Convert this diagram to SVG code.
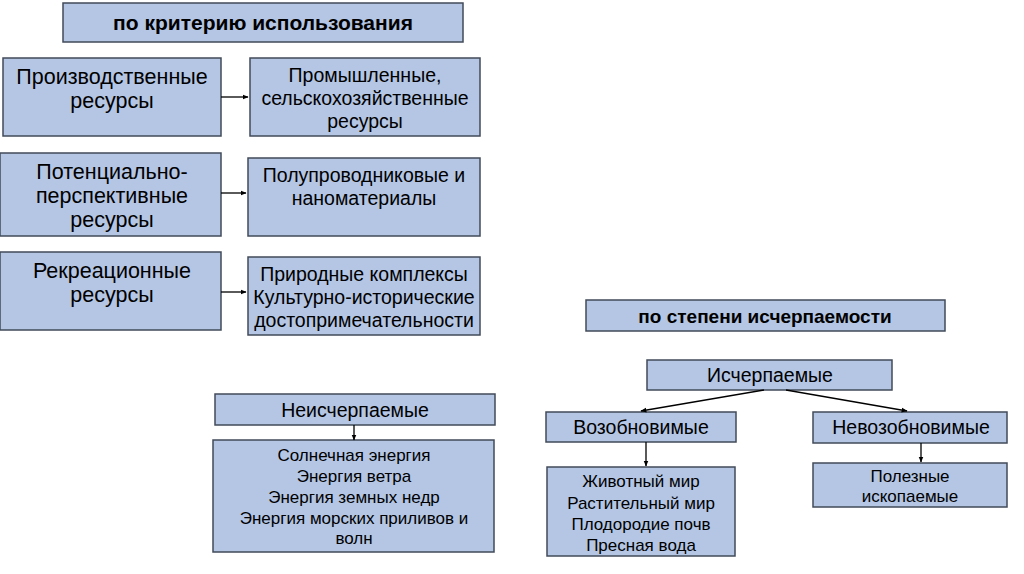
<svg xmlns="http://www.w3.org/2000/svg" width="1024" height="574" viewBox="0 0 1024 574">
<defs>
<style>
.box{fill:#b4c6e4;stroke:#414b5a;stroke-width:1.5}
.t{font-family:"Liberation Sans",Arial,sans-serif;fill:#000;text-anchor:middle}
.h{font-size:21px;font-weight:bold}
.h2{font-size:19px;font-weight:bold}
.b{font-size:21.5px}
.m{font-size:19.5px}
.s{font-size:17px}
.c{stroke:#000;stroke-width:1.3;fill:none;marker-end:url(#ar)}
</style>
<marker id="ar" viewBox="0 0 10 10" refX="9" refY="5" markerWidth="6" markerHeight="6" orient="auto" markerUnits="userSpaceOnUse"><path d="M0,1 L10,5 L0,9 z" fill="#000"/></marker>
</defs>
<rect width="1024" height="574" fill="#fff"/>
<g id="n-usage"><rect class="box" x="63" y="3" width="400" height="39"/><text class="t h" x="263" y="30">по критерию использования</text></g>
<g id="n-prod"><rect class="box" x="3" y="58" width="218" height="78"/><text class="t b" x="112" y="84">Производственные</text><text class="t b" x="112" y="108">ресурсы</text></g>
<g id="n-prom"><rect class="box" x="250" y="58" width="230" height="78"/><text class="t m" x="365" y="82">Промышленные,</text><text class="t m" x="365" y="105">сельскохозяйственные</text><text class="t m" x="365" y="128">ресурсы</text></g>
<g id="n-pot"><rect class="box" x="0" y="153" width="221" height="83"/><text class="t b" x="112" y="179">Потенциально-</text><text class="t b" x="112" y="203">перспективные</text><text class="t b" x="112" y="227">ресурсы</text></g>
<g id="n-polu"><rect class="box" x="248" y="158" width="232" height="78"/><text class="t m" x="364" y="182">Полупроводниковые и</text><text class="t m" x="364" y="205">наноматериалы</text></g>
<g id="n-rekr"><rect class="box" x="0" y="252" width="221" height="78"/><text class="t b" x="112" y="278">Рекреационные</text><text class="t b" x="112" y="302">ресурсы</text></g>
<g id="n-prir"><rect class="box" x="248" y="257" width="232" height="78"/><text class="t m" x="364" y="281">Природные комплексы</text><text class="t m" x="364" y="304">Культурно-исторические</text><text class="t m" x="364" y="327">достопримечательности</text></g>
<g id="n-neisch"><rect class="box" x="215" y="394" width="280" height="31"/><text class="t m" x="355" y="417">Неисчерпаемые</text></g>
<g id="n-energy"><rect class="box" x="213" y="440" width="281" height="112"/><text class="t s" x="354" y="461">Солнечная энергия</text><text class="t s" x="354" y="482">Энергия ветра</text><text class="t s" x="354" y="503">Энергия земных недр</text><text class="t s" x="354" y="524">Энергия морских приливов и</text><text class="t s" x="354" y="544">волн</text></g>
<g id="n-degree"><rect class="box" x="586" y="300" width="359" height="31"/><text class="t h2" x="765" y="323">по степени исчерпаемости</text></g>
<g id="n-isch"><rect class="box" x="647" y="360" width="245" height="30"/><text class="t m" x="770" y="382">Исчерпаемые</text></g>
<g id="n-vozob"><rect class="box" x="546" y="412" width="190" height="30"/><text class="t m" x="641" y="434">Возобновимые</text></g>
<g id="n-nevozob"><rect class="box" x="813" y="412" width="194" height="31"/><text class="t m" x="911" y="434">Невозобновимые</text></g>
<g id="n-zhiv"><rect class="box" x="547" y="467" width="188" height="89"/><text class="t s" x="641" y="487">Животный мир</text><text class="t s" x="641" y="509">Растительный мир</text><text class="t s" x="641" y="530">Плодородие почв</text><text class="t s" x="641" y="551">Пресная вода</text></g>
<g id="n-polez"><rect class="box" x="813" y="463" width="194" height="44"/><text class="t s" x="910" y="482">Полезные</text><text class="t s" x="910" y="502">ископаемые</text></g>
<g id="connectors">
<path class="c" d="M221,97 H248"/>
<path class="c" d="M221,193 H246"/>
<path class="c" d="M221,292 H246"/>
<path class="c" d="M354,425 V440"/>
<path class="c" d="M764,390 L641,411"/>
<path class="c" d="M786,390 L907,411"/>
<path class="c" d="M646,442 V466"/>
<path class="c" d="M921,443 V462"/>
</g>
</svg>
